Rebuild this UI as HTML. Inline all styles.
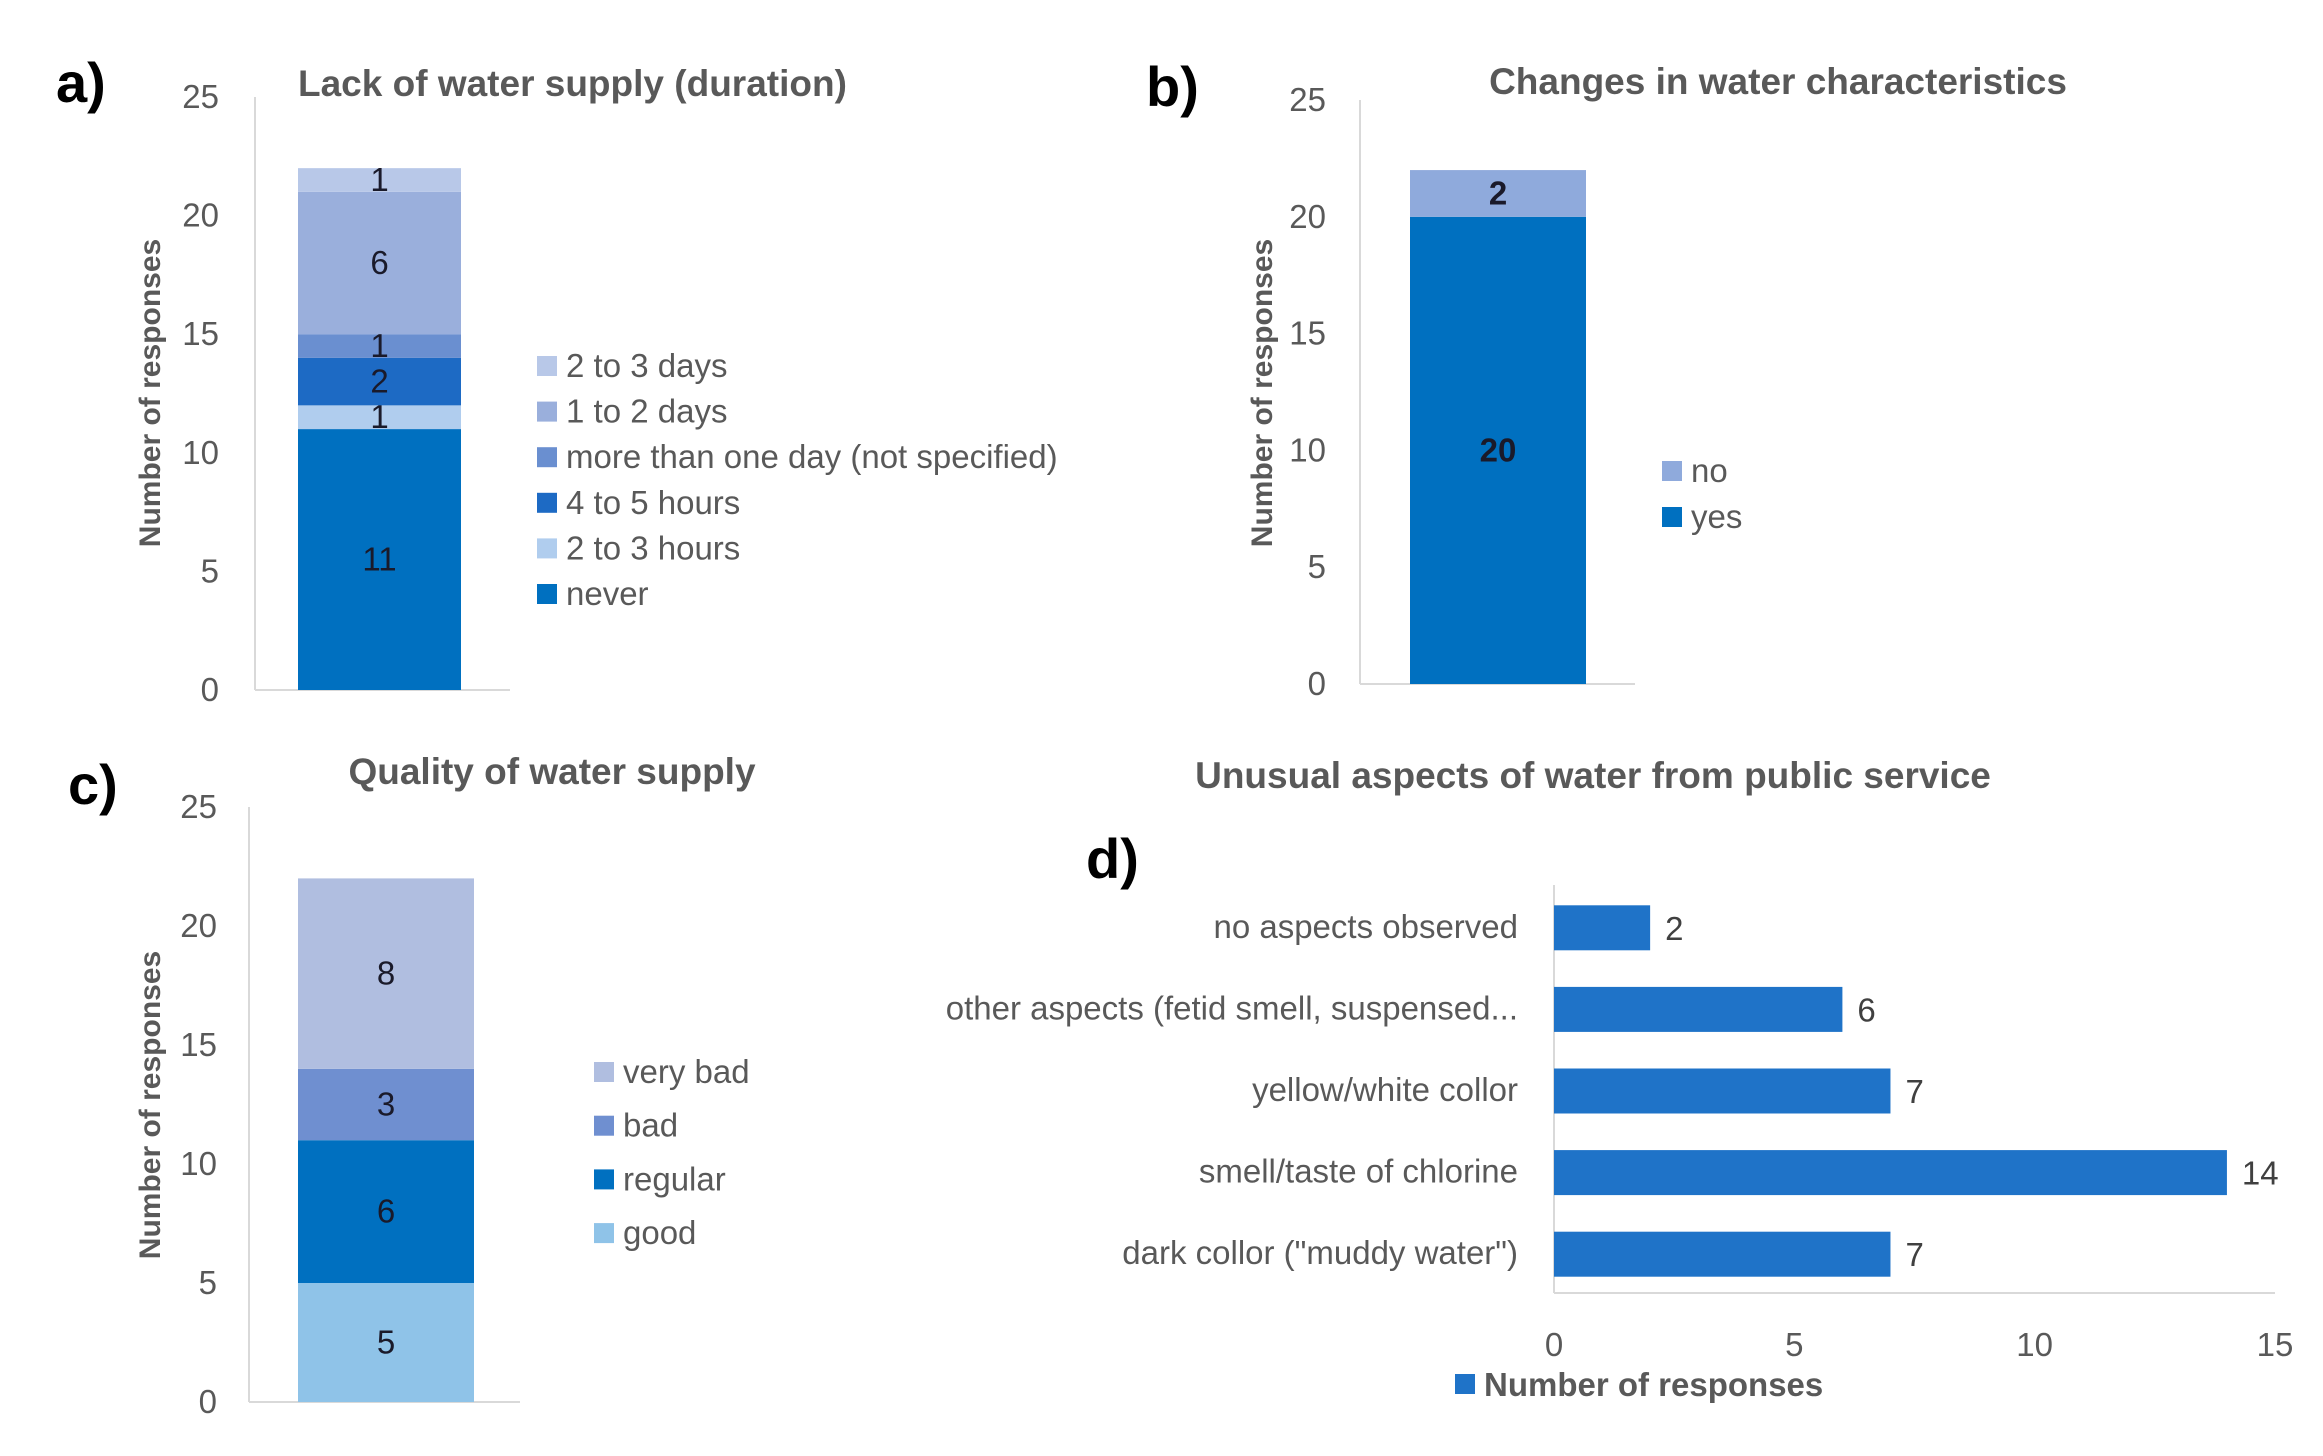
<!DOCTYPE html>
<html><head><meta charset="utf-8">
<style>
html,body{margin:0;padding:0;background:#fff;}
svg{display:block;}
text{font-family:"Liberation Sans Narrow","Liberation Sans",sans-serif;}
</style></head>
<body>
<svg id="fig" width="2323" height="1456" viewBox="0 0 2323 1456" xmlns="http://www.w3.org/2000/svg"></svg>
<script>
// ---- data ----
const aCategories = ["never","2 to 3 hours","4 to 5 hours","more than one day (not specified)","1 to 2 days","2 to 3 days"];
const aValues = [11,1,2,1,6,1];
const bCategories = ["yes","no"];
const bValues = [20,2];
const cCategories = ["good","regular","bad","very bad"];
const cValues = [5,6,3,8];
const dCategories = ["no aspects observed","other aspects (fetid smell, suspensed...","yellow/white collor","smell/taste of chlorine","dark collor (\"muddy water\")"];
const dValues = [2,6,7,14,7];
const yTicks = [0,5,10,15,20,25];
const xTicksD = [0,5,10,15];

const aColors = ["#0070c0","#b0cdee","#1d6ac4","#6a8fd0","#9aafdc","#b8c8e8"];
const bColors = ["#0070c0","#8faadc"];
const cColors = ["#8fc3e8","#0070c0","#6f8fd0","#b0bee0"];

const NS="http://www.w3.org/2000/svg";
const svg=document.getElementById('fig');
function el(tag,attrs,parent,txt){
  const e=document.createElementNS(NS,tag);
  for(const k in attrs) e.setAttribute(k,attrs[k]);
  if(txt!==undefined) e.textContent=txt;
  (parent||svg).appendChild(e);
  return e;
}

function stacked(o){
  const g=el('g',{});
  
  
  const y=v=>o.y0-(v/25)*(o.y0-o.y25);
  // axis lines
  const ax=el('line',{x1:o.ax,y1:o.y25,x2:o.ax,y2:o.y0,stroke:'#d9d9d9','stroke-width':2},g);
  
  
  const bx=el('line',{x1:o.ax,y1:o.y0,x2:o.axEnd,y2:o.y0,stroke:'#d9d9d9','stroke-width':2},g);
  
  
  yTicks.forEach(t=>{
    const tl=el('text',{x:o.tickX,y:y(t)+11,'text-anchor':'end','font-size':33,fill:'#595959'},g,String(t));
    
    
  });
  let cum=0;
  o.values.forEach((v,i)=>{
    const r=el('rect',{x:o.bx1,y:y(cum+v),width:o.bx2-o.bx1,height:y(cum)-y(cum+v),fill:o.colors[i]},g);
    
    
    const lb=el('text',{x:(o.bx1+o.bx2)/2,y:(y(cum)+y(cum+v))/2+11,'text-anchor':'middle','font-size':33,fill:'#1a1a2a','font-weight':o.boldVals?'bold':'normal'},g,String(v));
    
    
    cum+=v;
  });
  // legend (reverse order)
  const n=o.cats.length;
  for(let k=0;k<n;k++){
    const i=n-1-k;
    const ly=o.legY0+k*o.legStep;
    const sq=el('rect',{x:o.legX,y:ly-10,width:20,height:20,fill:o.colors[i]},g);
    
    
    const lt=el('text',{x:o.legX+29,y:ly+11,'font-size':33,fill:'#595959'},g,o.cats[i]);
    
    
  }
  const t=el('text',{x:o.titleX,y:o.titleY,'text-anchor':o.titleAnchor,'font-size':37,'font-weight':'bold',fill:'#595959'},g,o.title);
  
  
  const yt=el('text',{x:0,y:0,transform:`translate(${o.ytX},${o.ytY}) rotate(-90)`,'text-anchor':'middle','font-size':30,'font-weight':'bold',fill:'#595959','font-family':'"Liberation Sans",sans-serif'},g,'Number of responses');
  
  
  const pl=el('text',{x:o.panelX,y:o.panelY,'font-size':56,'font-weight':'bold',fill:'#000','font-family':'"Liberation Sans",sans-serif'},g,o.panel);
  
  
}

stacked({name:'chart-a',values:aValues,cats:aCategories,colors:aColors,ax:255,axEnd:510,y0:690,y25:97,tickX:219,bx1:298,bx2:461,
  legX:537,legY0:366,legStep:45.6,title:'Lack of water supply (duration)',titleX:298,titleY:96,titleAnchor:'start',ytX:160,ytY:393,panel:'a)',panelX:56,panelY:102});
stacked({name:'chart-b',values:bValues,cats:bCategories,colors:bColors,ax:1360,axEnd:1635,y0:684,y25:100,tickX:1326,bx1:1410,bx2:1586,boldVals:true,
  legX:1662,legY0:471,legStep:46,title:'Changes in water characteristics',titleX:1778,titleY:94,titleAnchor:'middle',ytX:1272,ytY:393,panel:'b)',panelX:1146,panelY:106});
stacked({name:'chart-c',values:cValues,cats:cCategories,colors:cColors,ax:249,axEnd:520,y0:1402,y25:807,tickX:217,bx1:298,bx2:474,
  legX:594,legY0:1072,legStep:53.7,title:'Quality of water supply',titleX:552,titleY:784,titleAnchor:'middle',ytX:160,ytY:1105,panel:'c)',panelX:68,panelY:804});

// ---- chart d ----
(function(){
  const g=el('g',{});
  
  
  const x0=1554,x15=2275,yTop=885,yBot=1293;
  const x=v=>x0+(v/15)*(x15-x0);
  const band=(yBot-yTop)/dCategories.length;
  const bh=45;
  const ax=el('line',{x1:x0,y1:yTop,x2:x0,y2:yBot,stroke:'#d9d9d9','stroke-width':2},g);
  
  
  const bx=el('line',{x1:x0,y1:yBot,x2:x15,y2:yBot,stroke:'#d9d9d9','stroke-width':2},g);
  
  
  xTicksD.forEach(t=>{
    const tl=el('text',{x:x(t),y:1356,'text-anchor':'middle','font-size':33,fill:'#595959'},g,String(t));
    
    
  });
  dCategories.forEach((c,i)=>{
    const cy=yTop+band*(i+0.5)+2;
    const r=el('rect',{x:x0,y:cy-bh/2,width:x(dValues[i])-x0,height:bh,fill:'#1f73c8'},g);
    
    
    const vl=el('text',{x:x(dValues[i])+15,y:cy+12,'font-size':33,fill:'#404040'},g,String(dValues[i]));
    
    
    const cl=el('text',{x:1518,y:cy+10,'text-anchor':'end','font-size':33,fill:'#595959'},g,c);
    
    
  });
  const t=el('text',{x:1593,y:788,'text-anchor':'middle','font-size':37,'font-weight':'bold',fill:'#595959'},g,'Unusual aspects of water from public service');
  
  
  const sq=el('rect',{x:1455,y:1374,width:20,height:20,fill:'#1f73c8'},g);
  
  
  const lt=el('text',{x:1484,y:1396,'font-size':33,'font-weight':'bold',fill:'#595959'},g,'Number of responses');
  
  
  const pl=el('text',{x:1086,y:878,'font-size':56,'font-weight':'bold',fill:'#000','font-family':'"Liberation Sans",sans-serif'},g,'d)');
  
  
})();
</script>
</body></html>
